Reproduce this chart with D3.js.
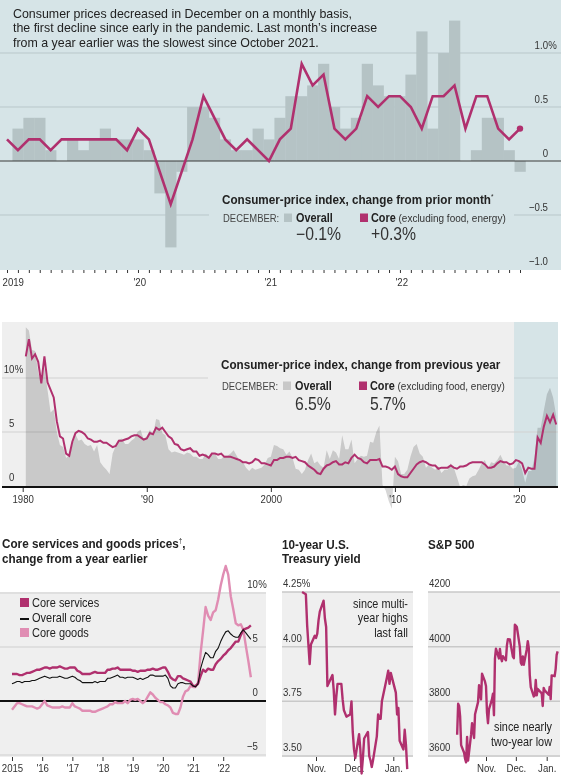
<!DOCTYPE html>
<html>
<head>
<meta charset="utf-8">
<script src="https://cdn.jsdelivr.net/npm/d3@7"></script>
<style>
  body { margin: 0; background: #fff; }
  svg { display: block; }
  text { font-family: 'Liberation Sans', Arial, sans-serif; }
</style>
</head>
<body>
<div id="chart"></div>
<script>
// ---------- data ----------
// Top: month-over-month change, Jan 2019 - Dec 2022
const momYears = ['2019', "'20", "'21", "'22"];
const overallMoM = [
  0.0, 0.3, 0.4, 0.4, 0.1, 0.0, 0.2, 0.1, 0.2, 0.3, 0.2, 0.2,
  0.2, 0.1, -0.3, -0.8, -0.1, 0.5, 0.5, 0.4, 0.2, 0.1, 0.1, 0.3,
  0.2, 0.4, 0.6, 0.6, 0.7, 0.9, 0.5, 0.3, 0.4, 0.9, 0.7, 0.6,
  0.6, 0.8, 1.2, 0.3, 1.0, 1.3, 0.0, 0.1, 0.4, 0.4, 0.1, -0.1
];
const coreMoM = [
  0.2, 0.1, 0.2, 0.2, 0.1, 0.2, 0.2, 0.2, 0.2, 0.2, 0.2, 0.1,
  0.3, 0.2, -0.1, -0.4, -0.1, 0.2, 0.6, 0.4, 0.2, 0.1, 0.2, 0.1,
  0.0, 0.2, 0.3, 0.9, 0.7, 0.8, 0.3, 0.2, 0.3, 0.6, 0.5, 0.6,
  0.6, 0.5, 0.3, 0.6, 0.6, 0.7, 0.3, 0.6, 0.6, 0.3, 0.2, 0.3
];
const momTicks = [1.0, 0.5, 0, -0.5, -1.0];
const momTickLabels = ['1.0', '0.5', '0', '−0.5', '−1.0'];

// Middle: change from previous year, quarterly (Mar, Jun, Sep, Dec) 1980-2022
const yoyFirstYear = 1980;
const overallYoY = [
  14.7, 14.4, 12.6, 12.5,  10.5, 9.6, 11.0, 8.9,  6.8, 7.1, 5.0, 3.8,  3.6, 2.6, 2.9, 3.8,
  4.8, 4.2, 4.3, 3.9,  3.7, 3.8, 3.2, 3.8,  2.2, 1.8, 1.5, 1.1,  3.0, 3.7, 4.3, 4.4,
  3.9, 3.9, 4.2, 4.4,  5.0, 5.2, 4.3, 4.6,  5.2, 4.7, 6.2, 6.1,  4.9, 4.7, 3.4, 3.1,
  3.2, 3.1, 3.0, 2.9,  3.1, 3.0, 2.7, 2.7,  2.5, 2.5, 3.0, 2.7,  2.9, 3.0, 2.5, 2.5,
  2.8, 2.8, 3.0, 3.3,  2.8, 2.3, 2.2, 1.7,  1.4, 1.7, 1.5, 1.6,  1.7, 2.0, 2.6, 2.7,
  3.8, 3.7, 3.5, 3.4,  2.9, 3.2, 2.6, 1.6,  1.5, 1.1, 1.5, 2.4,  3.0, 2.1, 2.3, 1.9,
  1.7, 3.3, 2.5, 3.3,  3.1, 2.5, 4.7, 3.4,  3.4, 4.3, 2.1, 2.5,  2.8, 2.7, 2.8, 4.1,
  4.0, 5.0, 5.6, 0.1,  -0.4, -1.4, -2.1, 2.7,  2.3, 1.1, 1.1, 1.5,  2.7, 3.6, 3.9, 3.0,
  2.7, 1.7, 2.0, 1.7,  1.5, 1.8, 1.2, 1.5,  1.5, 2.1, 1.7, 0.8,  -0.1, 0.1, 0.0, 0.7,
  0.9, 1.0, 1.5, 2.1,  2.4, 1.6, 2.2, 2.1,  2.4, 2.9, 2.3, 1.9,  1.9, 1.6, 1.7, 2.3,
  1.5, 0.3, 1.4, 1.4,  2.6, 5.4, 5.4, 7.0,  8.5, 9.1, 8.2, 6.5
];
const coreYoY = [
  12.0, 13.6, 11.8, 12.2,  11.5, 9.5, 12.0, 9.6,  8.9, 8.2, 6.0, 4.6,  4.4, 3.0, 2.8, 4.1,
  4.9, 5.1, 5.0, 4.8,  4.4, 4.3, 4.1, 4.1,  4.2, 4.0, 4.0, 3.8,  3.6, 3.7, 4.2, 4.2,
  4.3, 4.4, 4.6, 4.7,  4.7, 4.5, 4.3, 4.4,  4.9, 4.8, 5.4, 5.2,  5.4, 5.0, 4.6, 4.4,
  3.9, 3.8, 3.4, 3.3,  3.4, 3.5, 3.2, 3.2,  2.8, 2.9, 2.8, 2.6,  3.0, 3.0, 2.9, 3.0,
  2.7, 2.7, 2.7, 2.6,  2.5, 2.4, 2.2, 2.2,  2.1, 2.2, 2.5, 2.4,  2.1, 2.1, 2.0, 1.9,
  2.4, 2.4, 2.6, 2.6,  2.7, 2.7, 2.6, 2.7,  2.4, 2.3, 2.2, 1.9,  1.7, 1.5, 1.2, 1.1,
  1.6, 1.9, 2.0, 2.2,  2.3, 2.0, 2.0, 2.2,  2.1, 2.6, 2.9, 2.6,  2.5, 2.2, 2.1, 2.4,
  2.4, 2.4, 2.5, 1.8,  1.8, 1.7, 1.5, 1.8,  1.1, 0.9, 0.8, 0.8,  1.2, 1.6, 2.0, 2.2,
  2.3, 2.2, 2.0, 1.9,  1.9, 1.6, 1.7, 1.7,  1.7, 1.9, 1.7, 1.6,  1.8, 1.8, 1.9, 2.1,
  2.2, 2.2, 2.2, 2.2,  2.0, 1.7, 1.7, 1.8,  2.1, 2.3, 2.2, 2.2,  2.0, 2.1, 2.4, 2.3,
  2.1, 1.2, 1.7, 1.6,  1.6, 4.5, 4.0, 5.5,  6.5, 5.9, 6.6, 5.7
];
const yoyTicks = [10, 5, 0];
const yoyTickLabels = ['10', '5', '0'];
const decades = [1980, 1990, 2000, 2010, 2020];
const decadeLabels = ['1980', "'90", '2000', "'10", "'20"];

// Bottom left: core services and goods, monthly 2015-2022
const compFirstYear = 2015;
const compYearLabels = ['2015', "'16", "'17", "'18", "'19", "'20", "'21", "'22"];
const coreServices = [
  2.5, 2.5, 2.5, 2.4, 2.4, 2.5, 2.6, 2.6, 2.7, 2.8, 2.9, 2.9,
  3.0, 3.1, 3.1, 3.0, 3.1, 3.1, 3.1, 3.2, 3.1, 3.0, 3.0, 3.1,
  3.1, 3.1, 2.8, 2.7, 2.5, 2.5, 2.5, 2.5, 2.6, 2.7, 2.6, 2.6,
  2.6, 2.6, 2.9, 2.9, 3.0, 3.0, 3.1, 2.9, 2.9, 2.9, 2.9, 2.9,
  2.8, 2.8, 2.7, 2.8, 2.8, 2.8, 2.9, 2.9, 3.0, 2.9, 2.9, 3.0,
  3.1, 3.1, 2.7, 2.2, 2.0, 1.9, 2.3, 2.3, 2.1, 2.0, 1.9, 1.8,
  1.4, 1.4, 1.6, 2.3, 2.9, 2.7, 3.0, 2.9, 2.9, 3.4, 3.7, 3.9,
  4.2, 4.4, 4.7, 4.9, 5.2, 5.5, 5.5, 6.1, 6.6, 6.7, 6.8, 7.0
];
const overallCore = [
  1.6, 1.7, 1.8, 1.8, 1.7, 1.8, 1.8, 1.8, 1.9, 1.9, 2.0, 2.1,
  2.2, 2.3, 2.2, 2.1, 2.2, 2.2, 2.2, 2.3, 2.2, 2.1, 2.1, 2.2,
  2.3, 2.2, 2.0, 1.9, 1.7, 1.7, 1.7, 1.7, 1.7, 1.8, 1.7, 1.8,
  1.8, 1.8, 2.1, 2.1, 2.2, 2.3, 2.4, 2.2, 2.2, 2.1, 2.2, 2.2,
  2.2, 2.1, 2.0, 2.1, 2.0, 2.1, 2.2, 2.4, 2.4, 2.3, 2.3, 2.3,
  2.3, 2.4, 2.1, 1.4, 1.2, 1.2, 1.6, 1.7, 1.7, 1.6, 1.6, 1.6,
  1.4, 1.3, 1.6, 3.0, 3.8, 4.5, 4.3, 4.0, 4.0, 4.6, 4.9, 5.5,
  6.0, 6.4, 6.5, 6.2, 6.0, 5.9, 5.9, 6.3, 6.6, 6.3, 6.0, 5.7
];
const coreGoods = [
  -0.8, -0.5, -0.2, -0.2, -0.3, -0.4, -0.5, -0.5, -0.5, -0.6, -0.7, -0.6,
  -0.3, 0.0, -0.4, -0.5, -0.6, -0.6, -0.6, -0.6, -0.5, -0.6, -0.6, -0.6,
  -0.2, -0.5, -0.6, -0.7, -0.9, -0.9, -0.9, -0.9, -1.0, -1.0, -0.9, -0.8,
  -0.7, -0.6, -0.5, -0.3, -0.3, -0.1, -0.2, -0.2, -0.2, 0.0, -0.2, 0.1,
  0.2, 0.1, 0.2, 0.0, -0.2, 0.0, 0.4, 0.8, 0.6, 0.3, 0.1, -0.1,
  -0.1, -0.3, -0.4, -0.6, -1.1, -1.2, -1.2, -0.6, 0.4, 0.9, 1.0, 1.4,
  1.3, 1.3, 1.7, 4.4, 6.5, 8.7, 7.9, 7.5, 8.2, 8.4, 9.4, 10.7,
  11.7, 12.5, 11.7, 9.7, 8.5, 7.2, 7.0, 7.1, 6.6, 5.1, 3.7, 2.2
];
const compTicks = [10, 5, 0, -5];
const compTickLabels = ['10', '5', '0', '−5'];

// Bottom middle: 10-year Treasury yield, daily
const treasuryDates = [
  '2022-10-21', '2022-10-24', '2022-10-25', '2022-10-26', '2022-10-27', '2022-10-28', '2022-10-31',
  '2022-11-01', '2022-11-02', '2022-11-03', '2022-11-04', '2022-11-07', '2022-11-08', '2022-11-09',
  '2022-11-10', '2022-11-14', '2022-11-15', '2022-11-16', '2022-11-17', '2022-11-18', '2022-11-21',
  '2022-11-22', '2022-11-23', '2022-11-25', '2022-11-28', '2022-11-29', '2022-11-30',
  '2022-12-01', '2022-12-02', '2022-12-05', '2022-12-06', '2022-12-07', '2022-12-08', '2022-12-09',
  '2022-12-12', '2022-12-13', '2022-12-14', '2022-12-15', '2022-12-16', '2022-12-19', '2022-12-20',
  '2022-12-21', '2022-12-22', '2022-12-23', '2022-12-27', '2022-12-28', '2022-12-29', '2022-12-30',
  '2023-01-03', '2023-01-04', '2023-01-05', '2023-01-06', '2023-01-09', '2023-01-10', '2023-01-11',
  '2023-01-12'
];
const treasuryYield = [
  4.25, 4.24, 4.10, 4.01, 3.92, 4.01, 4.05,
  4.04, 4.06, 4.12, 4.16, 4.21, 4.13, 4.09,
  3.82, 3.87, 3.80, 3.69, 3.77, 3.83, 3.83,
  3.76, 3.71, 3.68, 3.69, 3.75, 3.61,
  3.53, 3.49, 3.60, 3.53, 3.42, 3.49, 3.58,
  3.61, 3.50, 3.48, 3.45, 3.48, 3.59, 3.69,
  3.67, 3.67, 3.75, 3.86, 3.89, 3.83, 3.88,
  3.79, 3.69, 3.72, 3.57, 3.53, 3.62, 3.55,
  3.44
];
const treasuryTicks = [4.25, 4.00, 3.75, 3.50];
const treasuryTickLabels = ['4.25%', '4.00', '3.75', '3.50'];

// Bottom right: S&P 500, daily close
const spxDates = [
  '2022-10-03', '2022-10-04', '2022-10-05', '2022-10-06', '2022-10-07', '2022-10-10', '2022-10-11',
  '2022-10-12', '2022-10-13', '2022-10-14', '2022-10-17', '2022-10-18', '2022-10-19', '2022-10-20',
  '2022-10-21', '2022-10-24', '2022-10-25', '2022-10-26', '2022-10-27', '2022-10-28', '2022-10-31',
  '2022-11-01', '2022-11-02', '2022-11-03', '2022-11-04', '2022-11-07', '2022-11-08', '2022-11-09',
  '2022-11-10', '2022-11-11', '2022-11-14', '2022-11-15', '2022-11-16', '2022-11-17', '2022-11-18',
  '2022-11-21', '2022-11-22', '2022-11-23', '2022-11-25', '2022-11-28', '2022-11-29', '2022-11-30',
  '2022-12-01', '2022-12-02', '2022-12-05', '2022-12-06', '2022-12-07', '2022-12-08', '2022-12-09',
  '2022-12-12', '2022-12-13', '2022-12-14', '2022-12-15', '2022-12-16', '2022-12-19', '2022-12-20',
  '2022-12-21', '2022-12-22', '2022-12-23', '2022-12-27', '2022-12-28', '2022-12-29', '2022-12-30',
  '2023-01-03', '2023-01-04', '2023-01-05', '2023-01-06', '2023-01-09', '2023-01-10', '2023-01-11',
  '2023-01-12'
];
const spxClose = [
  3678, 3791, 3783, 3745, 3640, 3612, 3589,
  3577, 3670, 3583, 3678, 3720, 3695, 3666,
  3753, 3797, 3859, 3831, 3807, 3901, 3872,
  3856, 3760, 3720, 3771, 3807, 3828, 3749,
  3956, 3993, 3957, 3992, 3959, 3947, 3965,
  3950, 4004, 4027, 4026, 3964, 3958, 4080,
  4077, 4072, 3999, 3941, 3934, 3964, 3934,
  3991, 4020, 3995, 3896, 3852, 3818, 3822,
  3878, 3822, 3845, 3829, 3783, 3849, 3840,
  3824, 3853, 3808, 3895, 3892, 3919, 3970,
  3983
];
const spxTicks = [4200, 4000, 3800, 3600];

const monthTickDates = ['2022-11-01', '2022-12-01', '2023-01-01'];
const monthTickLabels = ['Nov.', 'Dec.', 'Jan.'];

// ---------- styling ----------
const MAGENTA = '#b0306e';
const PINK = '#e08db3';
const BLUE_BG = '#d6e4e7';
const GRAY_BG = '#efefef';
const INK = '#222';
const LABEL = '#333';
const NARROW = 0.84;   // horizontal squeeze to mimic the condensed house font

const parseDate = d3.timeParse('%Y-%m-%d');

const svg = d3.select('#chart')
  .append('svg')
    .attr('width', 562)
    .attr('height', 779);

/**
 * Draws a bottom axis with custom ticks and labels
 */
function drawXAxis(scale, values, labels, y, size, anchor, dx) {
  const axis = d3.axisBottom(scale)
    .tickValues(values)
    .tickSize(size)
    .tickSizeOuter(0)
    .tickPadding(3)
    .tickFormat((d, i) => labels[i]);

  const g = svg.append('g')
    .attr('transform', `translate(0,${y})`)
    .call(axis);

  g.select('.domain').remove();
  g.selectAll('line').attr('stroke', LABEL);
  g.selectAll('text')
    .attr('font-size', 11.5)
    .attr('fill', LABEL)
    .attr('text-anchor', anchor || 'middle')
    .attr('transform', `scale(${NARROW},1)`)
    .attr('dx', (dx || 0) / NARROW);
  return g;
}

function gridLine(x0, x1, y, color, width) {
  svg.append('line')
    .attr('x1', x0).attr('x2', x1)
    .attr('y1', y).attr('y2', y)
    .attr('stroke', color)
    .attr('stroke-width', width);
}

// text with an optional horizontal squeeze (sx)
function addText(x, y, str, size, opts = {}) {
  const sx = opts.sx || 1;
  return svg.append('text')
    .attr('transform', sx === 1 ? null : `scale(${sx},1)`)
    .attr('x', x / sx)
    .attr('y', y)
    .attr('font-size', size)
    .attr('font-weight', opts.weight || 'normal')
    .attr('text-anchor', opts.anchor || 'start')
    .attr('fill', opts.fill || INK)
    .text(str);
}

// y tick label: number right-aligned at x, the first one gets a hanging "%"
function yLabel(x, y, str, withPct) {
  addText(x, y, str, 11.5, {anchor: 'end', fill: LABEL, sx: NARROW});
  if (withPct) addText(x + 0.3, y, '%', 11.5, {fill: LABEL, sx: NARROW});
}

/**
 * Legend block: "DECEMBER:  [] Overall   [] Core (excluding food, energy)" with values below
 */
function drawLegend(x, yKey, yValue, overallColor, overallValue, coreValue) {
  const x1 = x + 62;
  const x2 = x + 138;
  addText(x + 1, yKey, 'DECEMBER:', 11, {fill: '#444', sx: 0.86});
  svg.append('rect').attr('x', x1).attr('y', yKey - 8.5).attr('width', 8).attr('height', 8.5)
    .attr('fill', overallColor);
  addText(x1 + 12, yKey, 'Overall', 12.5, {weight: 'bold', sx: 0.87});
  svg.append('rect').attr('x', x2).attr('y', yKey - 8.5).attr('width', 8).attr('height', 8.5)
    .attr('fill', MAGENTA);
  const core = addText(x2 + 11, yKey, 'Core', 12.5, {weight: 'bold', sx: 0.87});
  core.append('tspan').attr('font-weight', 'normal').attr('font-size', 11.5).attr('fill', LABEL)
    .text(' (excluding food, energy)');
  addText(x1 + 12, yValue, overallValue, 17.5, {sx: 0.9, fill: '#333'});
  addText(x2 + 11, yValue, coreValue, 17.5, {sx: 0.9, fill: '#333'});
}

// ---------- top panel: monthly change ----------
function drawMonthly() {
  const x = d3.scaleLinear().domain([0, overallMoM.length - 1]).range([7, 520]);
  const y = d3.scaleLinear().domain([-1, 1]).range([269, 53]);
  const step = x(1) - x(0);

  svg.append('rect').attr('x', 0).attr('y', 0).attr('width', 561).attr('height', 270)
    .attr('fill', BLUE_BG);

  momTicks.filter(t => t !== 0 && t !== -1).forEach(t => gridLine(0, 561, y(t), '#b9c7ca', 1));

  // mask behind legend
  svg.append('rect').attr('x', 209).attr('y', 186).attr('width', 305).attr('height', 60)
    .attr('fill', BLUE_BG);

  svg.append('g').selectAll('rect')
    .data(overallMoM)
    .join('rect')
      .attr('x', (d, i) => x(i) - step / 2)
      .attr('width', step + 0.3)
      .attr('y', d => y(Math.max(0, d)))
      .attr('height', d => Math.abs(y(d) - y(0)))
      .attr('fill', '#b5c3c5');

  gridLine(0, 561, y(0), '#3a3a3a', 1.2);

  const line = d3.line().x((d, i) => x(i)).y(d => y(d));
  svg.append('path')
    .datum(coreMoM)
    .attr('d', line)
    .attr('fill', 'none')
    .attr('stroke', MAGENTA)
    .attr('stroke-width', 2.6)
    .attr('stroke-linejoin', 'miter');
  svg.append('circle')
    .attr('cx', x(coreMoM.length - 1))
    .attr('cy', y(coreMoM[coreMoM.length - 1]))
    .attr('r', 3.2)
    .attr('fill', MAGENTA);

  momTicks.forEach((t, i) => yLabel(548, y(t) - 4, momTickLabels[i], i === 0));

  const axis = drawXAxis(x, d3.range(overallMoM.length),
    d3.range(overallMoM.length).map(i => (i % 12 === 0 ? momYears[i / 12] : '')), 270, 3, 'start', -5);
  axis.selectAll('text').attr('dy', '0.9em');

  // headline
  const head = [
    'Consumer prices decreased in December on a monthly basis,',
    'the first decline since early in the pandemic. Last month’s increase',
    'from a year earlier was the slowest since October 2021.'
  ];
  head.forEach((s, i) => addText(13, 18 + i * 14.4, s, 12.4));

  const title = addText(222, 204, 'Consumer-price index, change from prior month', 13, {weight: 'bold', sx: 0.9});
  title.append('tspan').attr('font-size', 7).attr('dy', -5).attr('font-weight', 'normal').text('*');
  drawLegend(222, 222, 240, '#b5c3c5', '−0.1%', '+0.3%');
}

// ---------- middle panel: yearly change ----------
function drawYearly() {
  const x = d3.scaleLinear().domain([1980, 2020]).range([22.7, 519]);
  const y = d3.scaleLinear().domain([0, 10]).range([486, 378]);
  const t = i => yoyFirstYear + Math.floor(i / 4) + ((i % 4) * 3 + 3) / 12;

  svg.append('rect').attr('x', 2).attr('y', 322).attr('width', 556).attr('height', 164)
    .attr('fill', GRAY_BG);
  svg.append('rect').attr('x', x(2019.6)).attr('y', 322).attr('width', 558 - x(2019.6)).attr('height', 164)
    .attr('fill', BLUE_BG);

  gridLine(2, 558, y(5), '#d2d2d2', 1.2);
  gridLine(2, 208, y(10), '#d2d2d2', 1.2);
  gridLine(x(2019.6), 558, y(10), '#c4d0d3', 1.2);

  const area = d3.area().x((d, i) => x(t(i))).y0(y(0)).y1(d => y(d));
  svg.append('path')
    .datum(overallYoY)
    .attr('d', area)
    .attr('fill', '#d7d7d7')
    .style('mix-blend-mode', 'multiply');

  svg.append('path')
    .datum(coreYoY)
    .attr('d', d3.line().x((d, i) => x(t(i))).y(d => y(d)))
    .attr('fill', 'none')
    .attr('stroke', MAGENTA)
    .attr('stroke-width', 2);

  gridLine(2, 558, 487, '#111', 2);

  yoyTicks.forEach((v, i) => yLabel(14.5, y(v) - 5, yoyTickLabels[i], i === 0));

  drawXAxis(x, decades, decadeLabels, 488, 4);

  addText(221, 369, 'Consumer-price index, change from previous year', 13, {weight: 'bold', sx: 0.9});
  drawLegend(221, 390, 410, '#c8c8c8', '6.5%', '5.7%');
}

// ---------- bottom left: services and goods ----------
function drawComponents() {
  const x = d3.scaleLinear().domain([2015, 2022]).range([12, 223.2]);
  const y = d3.scaleLinear().domain([-5, 10]).range([755, 593]);
  const t = i => compFirstYear + i / 12;

  svg.append('rect').attr('x', 0).attr('y', 592).attr('width', 266).attr('height', 165)
    .attr('fill', GRAY_BG);
  [10, 5, -5].forEach(v => gridLine(0, 266, y(v), '#cfcfcf', 1.2));
  gridLine(0, 266, y(0), '#111', 2);

  const line = d3.line().x((d, i) => x(t(i))).y(d => y(d));
  [[coreGoods, PINK, 2.4], [coreServices, MAGENTA, 2.4], [overallCore, '#111', 1.1]].forEach(([data, color, w]) => {
    svg.append('path')
      .datum(data)
      .attr('d', line)
      .attr('fill', 'none')
      .attr('stroke', color)
      .attr('stroke-width', w)
      .attr('stroke-linejoin', 'round');
  });

  compTicks.forEach((v, i) => yLabel(258, y(v) - 5, compTickLabels[i], i === 0));

  drawXAxis(x, d3.range(2015, 2023), compYearLabels, 757, 4);

  const title = addText(2, 548, 'Core services and goods prices', 13, {weight: 'bold', sx: 0.9});
  title.append('tspan').attr('font-size', 7).attr('dy', -5).attr('font-weight', 'normal').text('†');
  title.append('tspan').attr('dy', 5).text(',');
  addText(2, 563.5, 'change from a year earlier', 13, {weight: 'bold', sx: 0.9});

  // legend
  svg.append('rect').attr('x', 20).attr('y', 598).attr('width', 9).attr('height', 9).attr('fill', MAGENTA);
  addText(32, 607.5, 'Core services', 12.5, {sx: 0.88});
  gridLine(20, 29, 619, '#111', 2);
  addText(32, 622.5, 'Overall core', 12.5, {sx: 0.88});
  svg.append('rect').attr('x', 20).attr('y', 628).attr('width', 9).attr('height', 9).attr('fill', PINK);
  addText(32, 637.5, 'Core goods', 12.5, {sx: 0.88});
}

// ---------- bottom small multiples: markets ----------
function drawMarket(opts) {
  const x = d3.scaleTime().domain([parseDate('2022-11-01'), parseDate('2023-01-01')]).range(opts.xRange);
  const y = d3.scaleLinear().domain(opts.domain).range([756, 592]);

  svg.append('rect').attr('x', opts.left).attr('y', 592).attr('width', opts.right - opts.left).attr('height', 165)
    .attr('fill', GRAY_BG);
  opts.ticks.forEach((v, i) => {
    gridLine(opts.left, opts.right, y(v), '#c9c9c9', 1.5);
    addText(opts.left + 1, y(v) - 5, opts.tickLabels[i], 11.5, {fill: LABEL, sx: NARROW});
  });

  drawXAxis(x, monthTickDates.map(parseDate), monthTickLabels, 757, 4);

  svg.append('path')
    .datum(opts.values)
    .attr('d', d3.line().x((d, i) => x(parseDate(opts.dates[i]))).y(d => y(d)))
    .attr('fill', 'none')
    .attr('stroke', MAGENTA)
    .attr('stroke-width', 2.4)
    .attr('stroke-linejoin', 'round');

  opts.title.forEach((s, i) => addText(opts.left, 549 + i * 14.5, s, 13, {weight: 'bold', sx: 0.9}));
  opts.note.forEach((s, i) => addText(opts.noteX, opts.noteY + i * 14.5, s, 12.5, {anchor: 'end', sx: 0.87}));
}

drawMonthly();
drawYearly();
drawComponents();
drawMarket({
  left: 282, right: 413, xRange: [316, 393.3],
  domain: [3.5, 4.25], ticks: treasuryTicks, tickLabels: treasuryTickLabels,
  dates: treasuryDates, values: treasuryYield,
  title: ['10-year U.S.', 'Treasury yield'],
  note: ['since multi-', 'year highs', 'last fall'], noteX: 408, noteY: 608
});
drawMarket({
  left: 428, right: 560, xRange: [486, 546.7],
  domain: [3600, 4200], ticks: spxTicks, tickLabels: spxTicks.map(String),
  dates: spxDates, values: spxClose,
  title: ['S&P 500'],
  note: ['since nearly', 'two-year low'], noteX: 552, noteY: 731.5
});
</script>
</body>
</html>
